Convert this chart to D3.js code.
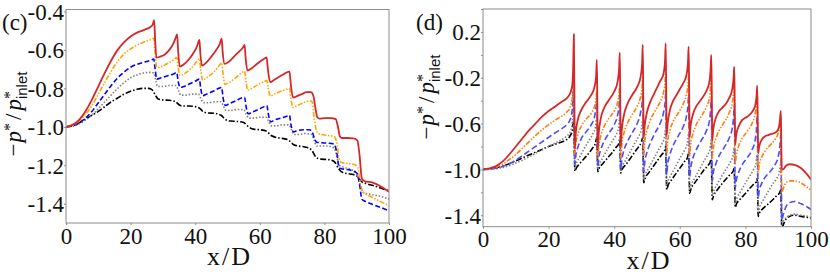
<!DOCTYPE html>
<html><head><meta charset="utf-8">
<script src="https://cdn.jsdelivr.net/npm/d3@7/dist/d3.min.js"></script>
<style>body{margin:0;background:#fff}svg{display:block}</style>
</head><body>
<svg id="chart" width="830" height="277"></svg>
<script>
// ---------------- data ----------------
const xTicks = [0, 20, 40, 60, 80, 100];
const cYTicks = [-1.4, -1.2, -1.0, -0.8, -0.6, -0.4];
const cYLabels = ["-1.4", "-1.2", "-1.0", "-0.8", "-0.6", "-0.4"];
const dYTicks = [-1.4, -1.2, -1.0, -0.8, -0.6, -0.4, -0.2, 0.0, 0.2, 0.4];
const dYLabelVals = [-1.4, -1.0, -0.6, -0.2, 0.2];
const dYLabels = ["-1.4", "-1.0", "-0.6", "-0.2", "0.2"];

// panel (c)
const cRed = [[0,-1.0],[2,-0.99],[4,-0.965],[6,-0.92],[8,-0.86],[10,-0.79],[12,-0.72],[14,-0.655],[16,-0.60],[18,-0.56],[20,-0.53],[22,-0.51],[24,-0.497],[26,-0.482],[26.8,-0.47],[27.3,-0.446],[27.6,-0.55],[28.0,-0.64],
 [29,-0.636],[30.5,-0.625],[32,-0.6],[33.3,-0.565],[34.0,-0.535],[34.4,-0.519],[34.7,-0.6],[35.2,-0.687],
 [36.5,-0.675],[38,-0.65],[39.5,-0.615],[40.6,-0.58],[41.3,-0.548],[41.6,-0.62],[42.1,-0.682],
 [43.5,-0.665],[45,-0.635],[46.5,-0.6],[47.6,-0.57],[48.2,-0.541],[48.5,-0.61],[49.1,-0.673],
 [50.5,-0.66],[52,-0.635],[53.5,-0.61],[54.7,-0.59],[55.3,-0.574],[55.6,-0.64],[56.2,-0.708],
 [57.5,-0.695],[59,-0.675],[60.5,-0.655],[61.5,-0.645],[62.1,-0.639],[62.5,-0.70],[63.2,-0.768],
 [64.5,-0.755],[66,-0.74],[67.5,-0.725],[68.6,-0.715],[69.2,-0.713],[69.6,-0.78],[70.3,-0.848],
 [71.5,-0.84],[73,-0.83],[74.5,-0.82],[75.8,-0.82],[76.6,-0.84],[77.2,-0.9],[77.8,-0.95],[78.5,-0.957],
 [80,-0.955],[82,-0.955],[83.5,-0.96],[84.2,-1.0],[84.8,-1.05],[85.5,-1.058],[87,-1.058],[89,-1.06],[90.2,-1.07],[90.9,-1.15],[91.6,-1.27],[92.5,-1.283],[95,-1.29],[97.5,-1.31],[100,-1.338]];
const cOrange = [[0,-1.0],[2,-0.993],[4,-0.97],[6,-0.935],[8,-0.89],[10,-0.83],[12,-0.77],[14,-0.71],[16,-0.66],[18,-0.62],[20,-0.595],[22,-0.575],[24,-0.56],[26,-0.548],[27.2,-0.54],[27.6,-0.62],[28.1,-0.692],
 [29,-0.69],[31,-0.675],[33,-0.655],[34.3,-0.64],[34.7,-0.69],[35.3,-0.733],
 [36.5,-0.725],[38.5,-0.7],[40.3,-0.665],[41.3,-0.645],[41.7,-0.7],[42.3,-0.758],
 [43.5,-0.745],[45.5,-0.72],[47.3,-0.685],[48.2,-0.667],[48.6,-0.72],[49.2,-0.778],
 [50.5,-0.77],[52.5,-0.745],[54.3,-0.72],[55.3,-0.71],[55.7,-0.76],[56.3,-0.81],
 [57.5,-0.80],[59.5,-0.78],[61.3,-0.765],[62.2,-0.76],[62.6,-0.80],[63.3,-0.84],
 [64.5,-0.83],[66.5,-0.815],[68.3,-0.805],[69.2,-0.8],[69.6,-0.85],[70.3,-0.9],
 [71.5,-0.89],[73.5,-0.875],[75.3,-0.865],[76.2,-0.87],[76.8,-0.95],[77.8,-1.03],[79,-1.04],[81,-1.045],[83,-1.05],[83.8,-1.08],[84.5,-1.16],[85.3,-1.185],[87,-1.19],[89,-1.195],[90.3,-1.21],[91.2,-1.30],[92,-1.34],[94,-1.36],[97,-1.385],[100,-1.41]];
const cBlue = [[0,-1.0],[2,-0.995],[4,-0.98],[6,-0.955],[8,-0.92],[10,-0.875],[12,-0.83],[14,-0.785],[16,-0.745],[18,-0.715],[20,-0.69],[22,-0.675],[24,-0.665],[26,-0.655],[27.2,-0.648],[27.6,-0.7],[28.1,-0.752],
 [29.5,-0.745],[31.5,-0.735],[33.3,-0.725],[34.3,-0.718],[34.7,-0.76],[35.3,-0.795],
 [36.5,-0.79],[38.5,-0.775],[40.3,-0.76],[41.3,-0.752],[41.7,-0.8],[42.3,-0.838],
 [43.5,-0.83],[45.5,-0.815],[47.3,-0.8],[48.2,-0.795],[48.6,-0.845],[49.3,-0.889],
 [50.5,-0.88],[52.5,-0.865],[54.3,-0.85],[55.3,-0.846],[55.7,-0.89],[56.4,-0.932],
 [57.5,-0.925],[59.5,-0.91],[61.3,-0.895],[62.2,-0.889],[62.6,-0.93],[63.4,-0.974],
 [64.5,-0.965],[66.5,-0.955],[68.3,-0.945],[69.2,-0.94],[69.6,-0.985],[70.4,-1.026],
 [71.5,-1.02],[73.5,-1.015],[75.3,-1.015],[76.3,-1.03],[76.9,-1.06],[77.6,-1.08],[79,-1.083],[81,-1.085],[83,-1.09],[83.8,-1.13],[84.6,-1.214],[86,-1.22],[88,-1.225],[90,-1.24],[90.9,-1.30],[91.6,-1.376],[93,-1.39],[96,-1.41],[100,-1.436]];
const cGray = [[0,-1.0],[2,-0.997],[4,-0.985],[6,-0.965],[8,-0.94],[10,-0.905],[12,-0.87],[14,-0.835],[16,-0.8],[18,-0.77],[20,-0.745],[22,-0.73],[24,-0.72],[26,-0.717],[27.2,-0.72],[27.8,-0.76],[28.3,-0.79],
 [30,-0.79],[32,-0.785],[34,-0.785],[34.8,-0.81],[35.6,-0.835],
 [37,-0.835],[39,-0.83],[41,-0.83],[41.8,-0.855],[42.6,-0.875],
 [44,-0.875],[46,-0.87],[48,-0.87],[48.8,-0.895],[49.6,-0.915],
 [51,-0.915],[53,-0.91],[55,-0.91],[55.8,-0.935],[56.6,-0.955],
 [58,-0.955],[60,-0.95],[62,-0.95],[62.8,-0.975],[63.6,-0.995],
 [65,-0.995],[67,-0.99],[69,-0.99],[69.8,-1.015],[70.6,-1.04],
 [72,-1.04],[74,-1.035],[76,-1.04],[76.8,-1.07],[77.6,-1.10],
 [79,-1.10],[81,-1.10],[83,-1.11],[83.8,-1.15],[84.6,-1.20],[86,-1.21],[88,-1.22],[90,-1.24],[91,-1.30],[91.8,-1.34],[94,-1.35],[97,-1.36],[100,-1.376]];
const cBlack = [[0,-1.0],[2,-0.995],[4,-0.98],[6,-0.96],[8,-0.94],[10,-0.92],[12,-0.895],[14,-0.87],[16,-0.85],[18,-0.83],[20,-0.815],[22,-0.805],[24,-0.80],[25.5,-0.80],[26.5,-0.805],[27.5,-0.83],[28.5,-0.855],
 [30,-0.86],[32,-0.862],[34,-0.87],[35,-0.885],[36,-0.892],[38,-0.892],[40,-0.895],[41.5,-0.905],[42.5,-0.922],[44,-0.928],[46,-0.93],[48,-0.94],[49.5,-0.963],[51,-0.97],[53,-0.972],[55,-0.978],[56.5,-1.0],[58,-1.012],[60,-1.015],[62,-1.022],[63.5,-1.045],[65,-1.055],[67,-1.06],[69,-1.07],[70.5,-1.093],[72,-1.1],[74,-1.105],[76,-1.12],[77.5,-1.16],[79,-1.168],[81,-1.17],[83,-1.18],[84.5,-1.22],[86,-1.24],[88,-1.245],[90,-1.255],[91.5,-1.285],[93,-1.295],[96,-1.31],[100,-1.333]];

// panel (d)
const dRed = [[0,-1.0],[2,-0.99],[4,-0.97],[6,-0.93],[8,-0.87],[10,-0.80],[12,-0.73],[14,-0.66],[16,-0.6],[18,-0.54],[20,-0.49],[22,-0.45],[24,-0.41],[25.5,-0.38],[26.5,-0.34],[27.2,-0.27],[27.5,-0.1],[27.7,0.18],[27.85,-0.3],[28.0,-0.82],
 [28.3,-0.68],[28.8,-0.58],[30,-0.48],[31.5,-0.41],[33,-0.35],[34,-0.28],[34.5,-0.18],[34.7,-0.045],[34.85,-0.4],[35.0,-0.82],
 [35.3,-0.68],[35.8,-0.57],[37,-0.46],[38.5,-0.39],[40,-0.32],[41,-0.24],[41.5,-0.12],[41.7,0.02],[41.85,-0.4],[42.0,-0.80],
 [42.3,-0.66],[42.8,-0.55],[44,-0.43],[45.5,-0.35],[47,-0.28],[48,-0.20],[48.5,-0.08],[48.7,0.087],[48.85,-0.35],[49.0,-0.72],
 [49.3,-0.62],[50,-0.5],[51,-0.41],[52,-0.35],[53,-0.29],[54,-0.23],[55,-0.17],[55.5,-0.05],[55.7,0.10],[55.85,-0.3],[56.0,-0.70],
 [56.3,-0.6],[57,-0.48],[58,-0.40],[59,-0.35],[60,-0.30],[61,-0.25],[62,-0.18],[62.5,-0.06],[62.7,0.072],[62.85,-0.3],[63.0,-0.72],
 [63.3,-0.62],[64,-0.52],[65,-0.45],[66,-0.41],[67,-0.37],[68,-0.32],[69,-0.24],[69.4,-0.12],[69.6,0.0],[69.75,-0.35],[69.9,-0.75],
 [70.2,-0.65],[71,-0.55],[72,-0.49],[73,-0.46],[74,-0.43],[75,-0.38],[76,-0.30],[76.4,-0.2],[76.6,-0.104],[76.75,-0.45],[76.9,-0.78],
 [77.2,-0.70],[78,-0.62],[79,-0.57],[80,-0.55],[81,-0.53],[82,-0.50],[83,-0.44],[83.4,-0.36],[83.6,-0.27],[83.75,-0.6],[83.9,-0.86],
 [84.2,-0.80],[85,-0.74],[86,-0.71],[87,-0.70],[88,-0.69],[89,-0.68],[90,-0.65],[90.5,-0.58],[90.8,-0.49],[90.95,-0.8],[91.1,-1.0],
 [91.5,-1.0],[92.3,-0.97],[93.5,-0.955],[95,-0.96],[97,-0.99],[99,-1.05],[100,-1.088]];
const dOrange = [[0,-1.0],[2,-0.995],[4,-0.98],[6,-0.955],[8,-0.915],[10,-0.87],[12,-0.815],[14,-0.76],[16,-0.705],[18,-0.655],[20,-0.61],[22,-0.57],[24,-0.535],[25.5,-0.5],[26.5,-0.46],[27.2,-0.38],[27.6,-0.19],[27.8,-0.5],[28.0,-0.87],
 [28.3,-0.78],[29,-0.69],[30,-0.62],[31.5,-0.56],[33,-0.51],[34,-0.45],[34.5,-0.38],[34.7,-0.32],[34.85,-0.6],[35.0,-0.90],
 [35.3,-0.80],[36,-0.70],[37,-0.62],[38.5,-0.55],[40,-0.49],[41,-0.42],[41.5,-0.33],[41.7,-0.27],[41.85,-0.6],[42.0,-0.90],
 [42.3,-0.79],[43,-0.68],[44,-0.6],[45.5,-0.52],[47,-0.45],[48,-0.37],[48.5,-0.28],[48.7,-0.20],[48.85,-0.55],[49.0,-0.88],
 [49.3,-0.76],[50,-0.66],[51,-0.57],[52.5,-0.49],[54,-0.41],[55,-0.33],[55.5,-0.24],[55.7,-0.16],[55.85,-0.5],[56,-0.86],
 [56.3,-0.76],[57,-0.66],[58,-0.58],[59.5,-0.51],[61,-0.43],[62,-0.35],[62.5,-0.26],[62.7,-0.18],[62.85,-0.5],[63,-0.88],
 [63.3,-0.78],[64,-0.69],[65,-0.61],[66.5,-0.54],[68,-0.46],[69,-0.38],[69.4,-0.28],[69.6,-0.2],[69.75,-0.55],[69.9,-0.9],
 [70.2,-0.82],[71,-0.73],[72,-0.66],[73.5,-0.59],[75,-0.51],[76,-0.42],[76.4,-0.33],[76.6,-0.25],[76.75,-0.6],[76.9,-0.95],
 [77.2,-0.88],[78,-0.79],[79,-0.73],[80.5,-0.67],[82,-0.6],[83,-0.51],[83.4,-0.42],[83.6,-0.33],[83.75,-0.7],[83.9,-1.02],
 [84.2,-0.96],[85,-0.89],[86,-0.84],[87.5,-0.79],[89,-0.74],[90,-0.68],[90.5,-0.6],[90.8,-0.52],[90.95,-0.9],[91.1,-1.2],
 [91.5,-1.17],[92.3,-1.12],[93.5,-1.10],[95,-1.10],[97,-1.12],[99,-1.16],[100,-1.18]];
const dBlue = [[0,-1.0],[2,-0.997],[4,-0.99],[6,-0.975],[8,-0.95],[10,-0.92],[12,-0.88],[14,-0.84],[16,-0.8],[18,-0.76],[20,-0.72],[22,-0.68],[24,-0.645],[25.5,-0.61],[26.5,-0.57],[27.2,-0.48],[27.6,-0.25],[27.8,-0.6],[28.0,-0.95],
 [28.3,-0.88],[29,-0.8],[30,-0.73],[31.5,-0.67],[33,-0.61],[34,-0.54],[34.5,-0.45],[34.7,-0.38],[34.85,-0.7],[35.0,-0.98],
 [35.3,-0.9],[36,-0.82],[37,-0.75],[38.5,-0.68],[40,-0.61],[41,-0.53],[41.5,-0.44],[41.7,-0.35],[41.85,-0.7],[42.0,-1.0],
 [42.3,-0.92],[43,-0.83],[44,-0.76],[45.5,-0.68],[47,-0.6],[48,-0.51],[48.5,-0.42],[48.7,-0.33],[48.85,-0.7],[49.0,-1.02],
 [49.3,-0.94],[50,-0.85],[51,-0.77],[52.5,-0.68],[54,-0.6],[55,-0.51],[55.5,-0.42],[55.7,-0.33],[55.85,-0.7],[56,-1.04],
 [56.3,-0.96],[57,-0.87],[58,-0.79],[59.5,-0.71],[61,-0.63],[62,-0.54],[62.5,-0.44],[62.7,-0.35],[62.85,-0.72],[63,-1.06],
 [63.3,-0.99],[64,-0.9],[65,-0.83],[66.5,-0.75],[68,-0.67],[69,-0.58],[69.4,-0.48],[69.6,-0.38],[69.75,-0.75],[69.9,-1.1],
 [70.2,-1.03],[71,-0.95],[72,-0.88],[73.5,-0.81],[75,-0.73],[76,-0.64],[76.4,-0.54],[76.6,-0.44],[76.75,-0.8],[76.9,-1.16],
 [77.2,-1.1],[78,-1.02],[79,-0.96],[80.5,-0.9],[82,-0.83],[83,-0.74],[83.4,-0.64],[83.6,-0.54],[83.75,-0.9],[83.9,-1.25],
 [84.2,-1.19],[85,-1.12],[86,-1.07],[87.5,-1.02],[89,-0.96],[90,-0.89],[90.5,-0.8],[90.8,-0.7],[90.95,-1.1],[91.1,-1.44],
 [91.5,-1.4],[92.3,-1.33],[93.5,-1.29],[95,-1.28],[97,-1.3],[99,-1.33],[100,-1.35]];
const dGray = [[0,-1.0],[2,-0.998],[4,-0.993],[6,-0.983],[8,-0.967],[10,-0.945],[12,-0.92],[14,-0.89],[16,-0.86],[18,-0.83],[20,-0.8],[22,-0.77],[24,-0.74],[25.5,-0.71],[26.5,-0.68],[27.2,-0.6],[27.6,-0.43],[27.8,-0.7],[28.0,-0.99],
 [28.4,-0.95],[29.5,-0.89],[31,-0.81],[32.5,-0.74],[33.5,-0.69],[34.3,-0.63],[34.7,-0.55],[34.85,-0.8],[35.0,-1.0],
 [35.4,-0.96],[36.5,-0.9],[38,-0.82],[39.5,-0.75],[40.5,-0.7],[41.3,-0.64],[41.7,-0.56],[41.85,-0.8],[42.0,-1.02],
 [42.4,-0.98],[43.5,-0.92],[45,-0.84],[46.5,-0.76],[47.5,-0.71],[48.3,-0.65],[48.7,-0.57],[48.85,-0.85],[49.0,-1.09],
 [49.4,-1.05],[50.5,-0.99],[52,-0.91],[53.5,-0.83],[54.5,-0.78],[55.3,-0.72],[55.7,-0.64],[55.85,-0.9],[56.0,-1.14],
 [56.4,-1.1],[57.5,-1.04],[59,-0.96],[60.5,-0.88],[61.5,-0.83],[62.3,-0.77],[62.7,-0.69],[62.85,-0.95],[63.0,-1.18],
 [63.4,-1.14],[64.5,-1.08],[66,-1.0],[67.5,-0.92],[68.5,-0.87],[69.2,-0.82],[69.6,-0.74],[69.75,-1.0],[69.9,-1.23],
 [70.3,-1.19],[71.4,-1.13],[73,-1.05],[74.5,-0.98],[75.5,-0.93],[76.2,-0.88],[76.6,-0.8],[76.75,-1.05],[76.9,-1.3],
 [77.3,-1.26],[78.4,-1.2],[80,-1.12],[81.5,-1.05],[82.5,-1.0],[83.2,-0.95],[83.6,-0.87],[83.75,-1.12],[83.9,-1.37],
 [84.3,-1.33],[85.4,-1.27],[87,-1.19],[88.5,-1.12],[89.5,-1.08],[90.3,-1.03],[90.8,-0.95],[90.95,-1.2],[91.1,-1.48],
 [91.6,-1.45],[92.5,-1.42],[93.5,-1.4],[95,-1.39],[97,-1.40],[99,-1.41],[100,-1.42]];
const dBlack = [[0,-1.0],[2,-0.995],[4,-0.985],[6,-0.97],[8,-0.95],[10,-0.925],[12,-0.9],[14,-0.875],[16,-0.85],[18,-0.825],[20,-0.8],[22,-0.78],[24,-0.76],[25.5,-0.74],[26.5,-0.71],[27.2,-0.66],[27.6,-0.58],[27.85,-0.8],[28.0,-1.015],
 [28.4,-0.99],[29.5,-0.95],[31,-0.9],[32.5,-0.85],[33.5,-0.81],[34.3,-0.77],[34.7,-0.72],[34.85,-0.87],[35.0,-1.02],
 [35.4,-0.99],[36.5,-0.95],[38,-0.9],[39.5,-0.85],[40.5,-0.81],[41.3,-0.78],[41.7,-0.74],[41.85,-0.9],[42.0,-1.03],
 [42.4,-1.0],[43.5,-0.96],[45,-0.9],[46.5,-0.84],[47.5,-0.8],[48.3,-0.76],[48.7,-0.72],[48.85,-0.9],[49.0,-1.117],
 [49.4,-1.08],[50.5,-1.03],[52,-0.97],[53.5,-0.91],[54.5,-0.87],[55.3,-0.84],[55.7,-0.8],[55.85,-0.98],[56.0,-1.176],
 [56.4,-1.14],[57.5,-1.09],[59,-1.03],[60.5,-0.97],[61.5,-0.93],[62.3,-0.9],[62.7,-0.86],[62.85,-1.03],[63.0,-1.21],
 [63.4,-1.17],[64.5,-1.12],[66,-1.06],[67.5,-1.0],[68.5,-0.97],[69.2,-0.94],[69.6,-0.91],[69.75,-1.08],[69.9,-1.264],
 [70.3,-1.23],[71.4,-1.18],[73,-1.12],[74.5,-1.07],[75.5,-1.04],[76.2,-1.02],[76.6,-0.99],[76.75,-1.16],[76.9,-1.33],
 [77.3,-1.3],[78.4,-1.26],[80,-1.21],[81.5,-1.16],[82.5,-1.13],[83.2,-1.11],[83.6,-1.08],[83.75,-1.25],[83.9,-1.41],
 [84.3,-1.38],[85.4,-1.34],[87,-1.3],[88.5,-1.26],[89.5,-1.23],[90.3,-1.21],[90.8,-1.18],[90.95,-1.35],[91.1,-1.52],
 [91.6,-1.48],[92.5,-1.43],[93.5,-1.41],[95,-1.40],[97,-1.41],[99,-1.42],[100,-1.425]];

// ---------------- drawing ----------------
const svg = d3.select("#chart");
svg.append("rect").attr("width", 830).attr("height", 277).attr("fill", "#fff");
const SERIF = '"Liberation Serif"';
const SANS = '"Liberation Sans"';

function panel(cfg) {
  const x = d3.scaleLinear().domain([0, 100]).range([cfg.left, cfg.right]);
  const y = d3.scaleLinear().domain(cfg.ydom).range([cfg.bottom, cfg.top]);
  const g = svg.append("g");
  const clipId = "clip" + cfg.name;
  svg.append("defs").append("clipPath").attr("id", clipId)
    .append("rect").attr("x", cfg.left).attr("y", cfg.top)
    .attr("width", cfg.right - cfg.left).attr("height", cfg.bottom - cfg.top);

  const line = d3.line().x(d => x(d[0])).y(d => y(d[1])).curve(d3.curveMonotoneX);
  const lg = g.append("g").attr("clip-path", `url(#${clipId})`);
  cfg.series.forEach(s => {
    lg.append("path").datum(s.data).attr("d", line)
      .attr("fill", "none").attr("stroke", s.color).attr("stroke-width", s.w || 1.6)
      .attr("stroke-dasharray", s.dash || null).attr("stroke-linejoin", "round");
  });

  // frame
  g.append("rect").attr("x", cfg.left).attr("y", cfg.top)
    .attr("width", cfg.right - cfg.left).attr("height", cfg.bottom - cfg.top)
    .attr("fill", "none").attr("stroke", "#8c8c8c").attr("stroke-width", 1);

  // x axis
  const xa = d3.axisBottom(x).tickValues(xTicks).tickSize(2).tickPadding(3).tickFormat(d3.format("d"));
  const gx = g.append("g").attr("transform", `translate(0,${cfg.bottom})`).call(xa)
    .attr("font-family", null).attr("font-size", null);
  gx.select(".domain").remove();
  gx.selectAll(".tick line").attr("stroke", "#8c8c8c");
  gx.selectAll(".tick text").style("font-family", SERIF).style("font-size", "23px").attr("fill", "#111")
    .attr("dy", null).attr("y", cfg.xLabelBase - cfg.bottom);

  // y axis
  const ya = d3.axisLeft(y).tickValues(cfg.yTicks).tickSize(2).tickPadding(2)
    .tickFormat(v => { const i = cfg.yLabelVals.findIndex(t => Math.abs(t - v) < 1e-9); return i >= 0 ? cfg.yLabels[i] : ""; });
  const gy = g.append("g").attr("transform", `translate(${cfg.left},0)`).call(ya)
    .attr("font-family", null).attr("font-size", null);
  gy.select(".domain").remove();
  gy.selectAll(".tick line").attr("stroke", "#8c8c8c");
  gy.selectAll(".tick text").style("font-family", SERIF).style("font-size", "23px").attr("fill", "#111")
    .attr("x", -2).attr("dy", "0.34em");

  // x title
  g.append("text").attr("x", (cfg.left + cfg.right) / 2 + 2).attr("y", cfg.xTitleBase)
    .attr("text-anchor", "middle").style("font-family", SERIF).style("font-size", "26px")
    .style("letter-spacing", "2px").attr("fill", "#111")
    .text("x/D");

  // y title
  const yt = g.append("text")
    .attr("transform", `translate(${cfg.yTitleX},${cfg.yTitleCenter}) rotate(-90)`)
    .attr("text-anchor", "middle").style("font-family", SERIF).style("font-size", "23px").attr("fill", "#111");
  yt.append("tspan").text("\u2212");
  yt.append("tspan").style("font-style", "italic").attr("dx", 1).text("p");
  yt.append("tspan").style("font-size", "16px").attr("dy", -6).text("*");
  yt.append("tspan").attr("dy", 6).attr("dx", 3).text("/");
  yt.append("tspan").style("font-style", "italic").attr("dx", 3).text("p");
  yt.append("tspan").style("font-size", "16px").attr("dy", -6).text("*");
  yt.append("tspan").style("font-family", SANS).style("font-size", "15px").attr("dx", -8).attr("dy", 12).text("inlet");

  // panel label
  g.append("text").attr("x", cfg.tagX).attr("y", 30).style("font-family", SERIF).style("font-size", "23px")
    .attr("fill", "#111").text(cfg.tag);
}

panel({
  name: "c", left: 66, right: 389, top: 9.5, bottom: 223, ydom: [-1.5, -0.39],
  yTicks: cYTicks, yLabelVals: cYTicks, yLabels: cYLabels,
  xLabelBase: 244, xTitleBase: 265, yTitleX: 21, yTitleCenter: 114, tag: "(c)", tagX: 2,
  series: [
    { data: cBlack, color: "#000000", dash: "6,2,1.5,2" },
    { data: cGray, color: "#808080", dash: "1.5,1.8" },
    { data: cBlue, color: "#0000ff", dash: "5,2.5" },
    { data: cOrange, color: "#ffa500", dash: "5,1.6,1.5,1.6,1.5,1.6" },
    { data: cRed, color: "#d62728", w: 1.8 }
  ]
});
panel({
  name: "d", left: 483, right: 811, top: 9, bottom: 226.7, ydom: [-1.5, 0.4],
  yTicks: dYTicks, yLabelVals: dYLabelVals, yLabels: dYLabels,
  xLabelBase: 246.5, xTitleBase: 269, yTitleX: 434, yTitleCenter: 97, tag: "(d)", tagX: 416,
  series: [
    { data: dBlack, color: "#000000", dash: "6,2,1.5,2" },
    { data: dGray, color: "#808080", dash: "1.5,1.8" },
    { data: dBlue, color: "#4d4dff", dash: "6,3" },
    { data: dOrange, color: "#ff7f0e", dash: "5,1.6,1.5,1.6,1.5,1.6" },
    { data: dRed, color: "#d62728", w: 1.8 }
  ]
});
</script>
</body></html>
